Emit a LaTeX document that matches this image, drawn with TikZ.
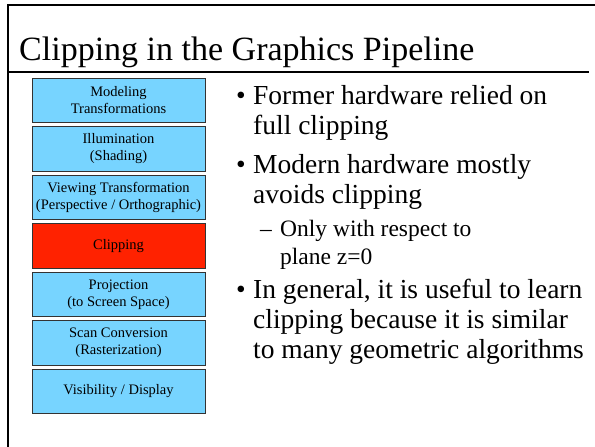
\documentclass[tikz,border=0pt]{standalone}
\usepackage{fontspec}
\setmainfont{Liberation Serif}
\definecolor{stageblue}{RGB}{119,212,255}
\definecolor{stagered}{RGB}{255,34,0}
\tikzset{
  stage/.style={draw=black!80,line width=1pt,fill=stageblue,minimum width=173pt,
    minimum height=44.5pt,align=center,inner sep=1pt,font=\fontsize{14.5}{17}\selectfont},
  bullettext/.style={anchor=base west,align=left,inner sep=0pt,font=\fontsize{27.5}{30}\selectfont},
  subtext/.style={anchor=base west,align=left,inner sep=0pt,font=\fontsize{23.5}{28}\selectfont}
}
\begin{document}
\begin{tikzpicture}[x=1pt,y=-1pt]
  \useasboundingbox (0,0) rectangle (595,447);
  % frame and title
  \draw[line width=2pt] (8,447) -- (8,5) -- (595,5);
  \node[anchor=base west,inner sep=0pt,font=\fontsize{34}{40}\selectfont] (title) at (19,60) {Clipping in the Graphics Pipeline};
  \draw[line width=1.5pt] (8,72) -- (589,72);
  % pipeline stages
  \node[stage] (model) at (118.5,100.25) {Modeling\\Transformations};
  \node[stage] (illum) at (118.5,148.75) {Illumination\\(Shading)};
  \node[stage] (view) at (118.5,197.25) {Viewing Transformation\\(Perspective / Orthographic)};
  \node[stage,fill=stagered] (clip) at (118.5,245.75) {Clipping};
  \node[stage] (proj) at (118.5,294.25) {Projection\\(to Screen Space)};
  \node[stage] (scan) at (118.5,342.75) {Scan Conversion\\(Rasterization)};
  \node[stage] (vis) at (118.5,391.25) {Visibility / Display};
  % bullets (anchored on the last line)
  \node[bullettext] (dot1) at (236,104) {•};
  \node[bullettext] (former) at (253,134) {Former hardware relied on\\full clipping};
  \node[bullettext] (dot2) at (236,173) {•};
  \node[bullettext] (modern) at (253,203) {Modern hardware mostly\\avoids clipping};
  \node[subtext] (dash1) at (260,236) {–};
  \node[subtext] (plane) at (280,264) {Only with respect to\\plane z=0};
  \node[bullettext] (dot3) at (236,298) {•};
  \node[bullettext] (general) at (253,358) {In general, it is useful to learn\\clipping because it is similar\\to many geometric algorithms};
\end{tikzpicture}
\end{document}
